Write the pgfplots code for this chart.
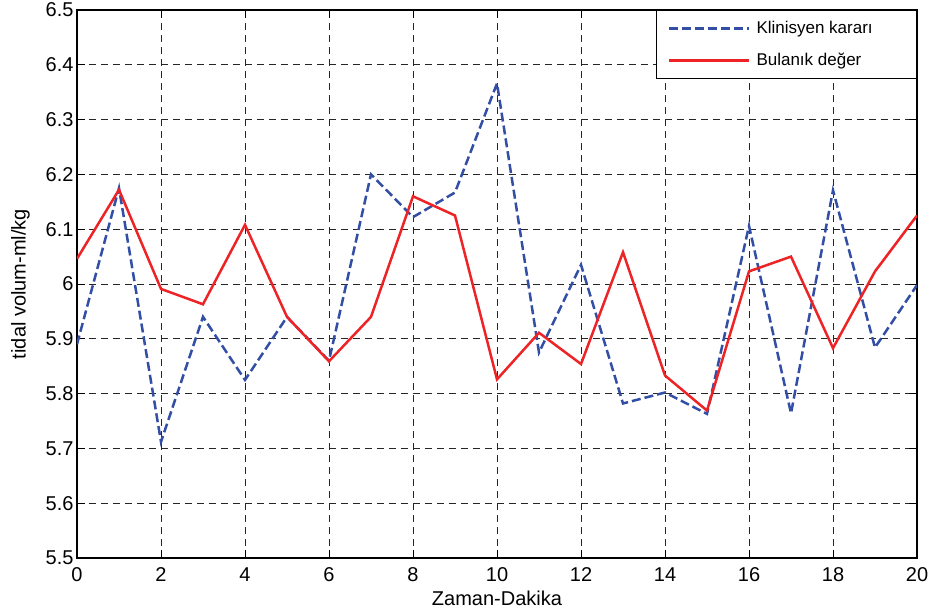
\documentclass[border=0pt]{standalone}
\usepackage{fontspec}
\setmainfont{Liberation Sans}
\usepackage{pgfplots}
\pgfplotsset{compat=1.18}
\definecolor{myblue}{RGB}{50,78,165}
\definecolor{myred}{RGB}{237,35,38}
\begin{document}
\begin{tikzpicture}
\begin{axis}[
  name=ax,
  scale only axis,
  width=840pt, height=548pt,
  xmin=0, xmax=20, ymin=5.5, ymax=6.5,
  xtick={0,2,...,20},
  ytick={5.5,5.6,5.7,5.8,5.9,6,6.1,6.2,6.3,6.4,6.5},
  yticklabels={5.5,5.6,5.7,5.8,5.9,6,6.1,6.2,6.3,6.4,6.5},
  tick align=inside,
  tick pos=both,
  major tick length=8pt,
  tick style={black, line width=0.8pt},
  axis line style={black, line width=1.2pt},
  grid=major,
  major grid style={black!85, line width=0.8pt, dash pattern=on 7pt off 5pt},
  /pgf/number format/assume math mode=true,
  tick label style={font=\fontsize{20}{24}\selectfont},
  xticklabel style={yshift=-6pt},
  label style={font=\fontsize{20}{24}\selectfont},
  xlabel={Zaman-Dakika},
  ylabel={tidal volum-ml/kg},
  xlabel style={yshift=-2pt},
  ylabel style={yshift=9pt},
  legend style={at={(1,1)}, anchor=north east, draw=black, line width=1pt, fill=white,
    font=\fontsize{17}{20}\selectfont, inner xsep=12pt, inner ysep=9pt, row sep=14pt,
    column sep=4pt},
  legend cell align=left,
  legend image code/.code={\draw[#1] (0pt,0pt) -- (80pt,0pt);},
]
\addplot[myblue, line width=2.5pt, dash pattern=on 9pt off 4pt] coordinates {
(0,5.89) (1,6.175) (2,5.712) (3,5.94) (4,5.825) (5,5.94) (6,5.86) (7,6.2)
(8,6.122) (9,6.167) (10,6.366) (11,5.875) (12,6.035) (13,5.782) (14,5.802)
(15,5.763) (16,6.106) (17,5.764) (18,6.171) (19,5.884) (20,5.998)
};
\addlegendentry{\makebox[146pt][l]{Klinisyen kararı}}
\addplot[myred, line width=2.5pt] coordinates {
(0,6.046) (1,6.172) (2,5.991) (3,5.963) (4,6.108) (5,5.94) (6,5.859) (7,5.94)
(8,6.16) (9,6.125) (10,5.826) (11,5.911) (12,5.854) (13,6.058) (14,5.833)
(15,5.769) (16,6.023) (17,6.05) (18,5.883) (19,6.023) (20,6.125)
};
\addlegendentry{\makebox[146pt][l]{Bulanık değer}}
\end{axis}
\pgfresetboundingbox
\path[use as bounding box] ([shift={(-77pt,-57pt)}]ax.south west) rectangle ([shift={(14pt,10pt)}]ax.north east);
\end{tikzpicture}
\end{document}
